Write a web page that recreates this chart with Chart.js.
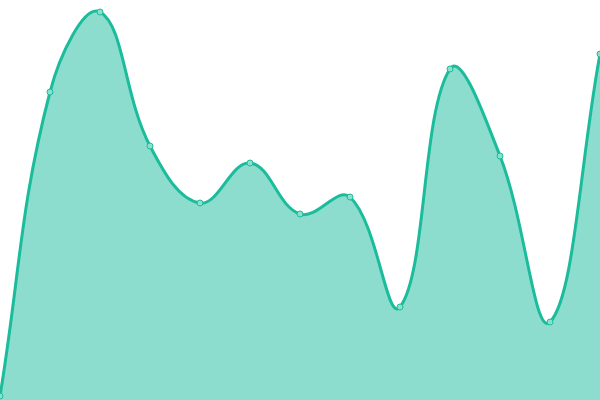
<!DOCTYPE html>
<html>
<head>
<meta charset="utf-8">
<style>
html,body{margin:0;padding:0;background:#fff;}
#wrap{width:600px;height:400px;}
</style>
<script src="https://cdn.jsdelivr.net/npm/chart.js@4"></script>
</head>
<body>
<div id="wrap"><canvas id="c" width="600" height="400"></canvas></div>
<script>
const labels = ["1","2","3","4","5","6","7","8","9","10","11","12","13"];
const values = [4, 308, 388, 254, 197, 237, 186, 203, 93, 331, 244, 78, 346];

new Chart(document.getElementById('c'), {
  type: 'line',
  data: {
    labels: labels,
    datasets: [{
      data: values,
      fill: 'start',
      tension: 0.4,
      borderColor: '#1abc9c',
      borderWidth: 3,
      backgroundColor: 'rgba(26,188,156,0.5)',
      pointRadius: 3,
      pointBorderWidth: 1,
      pointBackgroundColor: 'rgba(140,222,205,1)',
      pointBorderColor: '#1abc9c'
    }]
  },
  options: {
    responsive: false,
    animation: false,
    layout: { padding: 0, autoPadding: false },
    plugins: { legend: { display: false }, tooltip: { enabled: false } },
    scales: {
      x: { display: false },
      y: { display: false, min: 0, max: 400 }
    }
  }
});
</script>
</body>
</html>
